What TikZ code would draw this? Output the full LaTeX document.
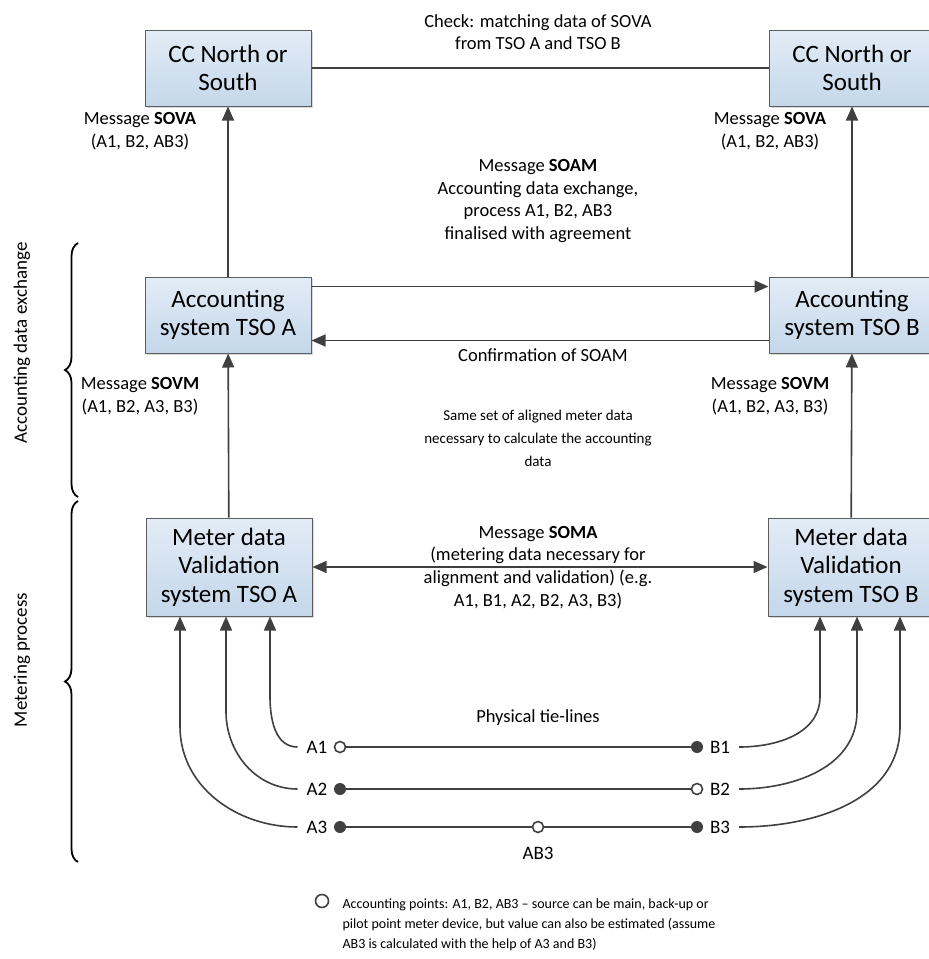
\documentclass[tikz,border=0pt]{standalone}
\usepackage{fontspec}
\setmainfont{Carlito}
\usetikzlibrary{arrows.meta,shadows,decorations.pathreplacing}
\definecolor{linegray}{HTML}{404040}
\definecolor{boxtop}{HTML}{E3ECF6}
\definecolor{boxbot}{HTML}{C4D7EA}

\begin{document}
\begin{tikzpicture}[x=1pt,y=-1pt,
  sysbox/.style={draw=linegray!85,line width=1pt,top color=boxtop,bottom color=boxbot,
    minimum width=166pt,minimum height=76pt,align=center,
    font=\fontsize{25}{28.5}\selectfont,
    drop shadow={shadow xshift=2pt,shadow yshift=-2pt,opacity=0.3}},
  conn/.style={draw=linegray,line width=1.6pt},
  arr/.style={conn,-{Triangle[width=12pt,length=14pt]}},
  msg/.style={align=center,font=\fontsize{18.5}{22.5}\selectfont},
  note/.style={align=center,font=\fontsize{15}{23}\selectfont},
  tiel/.style={font=\fontsize{19}{22}\selectfont,inner xsep=9pt},
  openpt/.style={circle,draw=linegray,line width=1.6pt,fill=white,inner sep=0pt,minimum size=11pt},
  fullpt/.style={circle,fill=linegray,inner sep=0pt,minimum size=12pt},
  brc/.style={draw=black,line width=1.8pt,decorate,decoration={brace,amplitude=13pt}}
]
\useasboundingbox (0,0) rectangle (929,959);
\clip (0,0) rectangle (929,959);

% system boxes
\node[sysbox] (ccA) at (228,68) {CC North or\\South};
\node[sysbox] (ccB) at (852,68) {CC North or\\South};
\node[sysbox] (accA) at (228,315) {Accounting\\system TSO A};
\node[sysbox] (accB) at (852,315) {Accounting\\system TSO B};
\node[sysbox,minimum height=98pt] (metA) at (229,567) {Meter data\\Validation\\system TSO A};
\node[sysbox,minimum height=98pt] (metB) at (851,567) {Meter data\\Validation\\system TSO B};

% messages between the boxes
\draw[conn] (ccA) -- (ccB);
\draw[arr] (accA) -- (ccA);
\draw[arr] (accB) -- (ccB);
\draw[arr] ([yshift=-10pt]accA.north east) -- ([yshift=-10pt]accB.north west);
\draw[arr] ([yshift=13pt]accB.south west) -- ([yshift=13pt]accA.south east);
\draw[arr] (metA) -- (accA);
\draw[arr] (metB) -- (accB);
\draw[conn,{Triangle[width=12pt,length=14pt]}-{Triangle[width=12pt,length=14pt]}] (metA) -- (metB);

\node[msg] (chk) at (538,32) {Check: matching data of SOVA\\from TSO A and TSO B};
\node[msg] (sovaA) at (140,131) {Message \textbf{SOVA}\\(A1, B2, AB3)};
\node[msg] (sovaB) at (770,131) {Message \textbf{SOVA}\\(A1, B2, AB3)};
\node[msg] (soam) at (538,201) {Message \textbf{SOAM}\\Accounting data exchange,\\process A1, B2, AB3\\finalised with agreement};
\node[msg] (conf) at (543,355) {Confirmation of SOAM};
\node[msg] (sovmA) at (140,396) {Message \textbf{SOVM}\\(A1, B2, A3, B3)};
\node[msg] (sovmB) at (770,396) {Message \textbf{SOVM}\\(A1, B2, A3, B3)};
\node[note] (same) at (538,438) {Same set of aligned meter data\\necessary to calculate the accounting\\data};
\node[msg,anchor=south,inner ysep=1pt] (somaT) at (538,565) {Message \textbf{SOMA}\\(metering data necessary for};
\node[msg,anchor=north,inner ysep=1pt] (somaB) at (538,569) {alignment and validation) (e.g.\\A1, B1, A2, B2, A3, B3)};

% tie-lines
\node[msg] (phys) at (538,718) {Physical tie-lines};
\foreach \r/\y in {1/747,2/789,3/827} {
  \node[tiel] (A\r) at (317,\y) {A\r};
  \node[tiel] (B\r) at (720,\y) {B\r};
}
\node[openpt] (pA1) at (340,747) {};
\node[fullpt] (pB1) at (697,747) {};
\node[fullpt] (pA2) at (340,789) {};
\node[openpt] (pB2) at (697,789) {};
\node[fullpt] (pA3) at (340,827) {};
\node[openpt] (pAB3) at (538,827) {};
\node[fullpt] (pB3) at (697,827) {};
\node[tiel] (lAB3) at (538,853) {AB3};
\draw[conn] (pA1) -- (pB1);
\draw[conn] (pA2) -- (pB2);
\draw[conn] (pA3) -- (pAB3) -- (pB3);

\draw[arr] (A1.west) to[out=180,in=270] ([xshift=41pt,yshift=-80pt]metA.south) -- ([xshift=41pt]metA.south);
\draw[arr] (A2.west) to[out=180,in=270] ([xshift=-3pt,yshift=-95pt]metA.south) -- ([xshift=-3pt]metA.south);
\draw[arr] (A3.west) to[out=180,in=270] ([xshift=-49pt,yshift=-110pt]metA.south) -- ([xshift=-49pt]metA.south);
\draw[arr] (B1.east) to[out=0,in=270] ([xshift=-31pt,yshift=-80pt]metB.south) -- ([xshift=-31pt]metB.south);
\draw[arr] (B2.east) to[out=0,in=270] ([xshift=6pt,yshift=-95pt]metB.south) -- ([xshift=6pt]metB.south);
\draw[arr] (B3.east) to[out=0,in=270] ([xshift=49pt,yshift=-110pt]metB.south) -- ([xshift=49pt]metB.south);

% braces
\draw[brc] (78,497) -- (78,243);
\draw[brc] (78,862) -- (78,501);
\node[rotate=90,font=\fontsize{19}{22}\selectfont] (lacc) at (22,343) {Accounting data exchange};
\node[rotate=90,font=\fontsize{19}{22}\selectfont] (lmet) at (22,660) {Metering process};

% legend
\node[openpt,minimum size=13pt] (lgpt) at (322,901) {};
\node[anchor=north west,align=left,font=\fontsize{14}{20}\selectfont] (lgtxt) at (339,895)
  {Accounting points: A1, B2, AB3 -- source can be main, back-up or\\
   pilot point meter device, but value can also be estimated (assume\\
   AB3 is calculated with the help of A3 and B3)};
\end{tikzpicture}
\end{document}
